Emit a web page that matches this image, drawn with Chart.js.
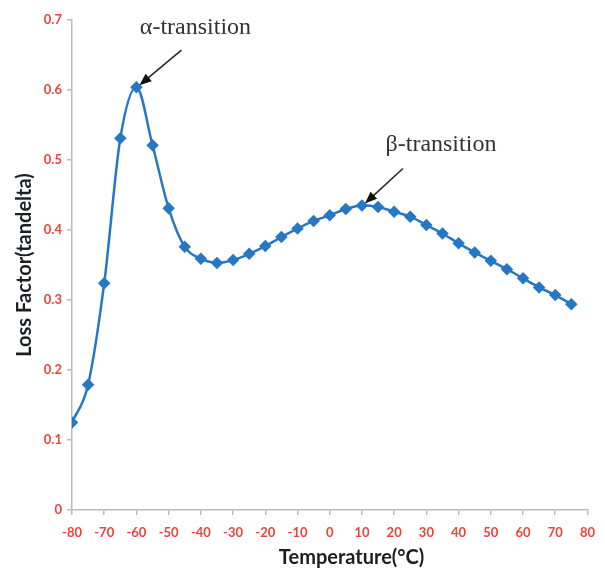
<!DOCTYPE html>
<html>
<head>
<meta charset="utf-8">
<script src="https://cdn.jsdelivr.net/npm/chart.js@4"></script>
<style>
  html, body { margin: 0; padding: 0; background: #fff; }
  #lossChart { display: block; }
</style>
</head>
<body>
<canvas id="lossChart" width="605" height="568"></canvas>
<script>
// temperature (°C) and loss factor
const temps = [-80, -75, -70, -65, -60, -55, -50, -45, -40, -35, -30, -25, -20, -15, -10, -5,
  0, 5, 10, 15, 20, 25, 30, 35, 40, 45, 50, 55, 60, 65, 70, 75];
const lossFactor = [0.125, 0.179, 0.324, 0.531, 0.604, 0.521, 0.431, 0.376, 0.359, 0.353, 0.357, 0.366,
  0.377, 0.390, 0.402, 0.413, 0.421, 0.430, 0.435, 0.433, 0.426, 0.419, 0.407, 0.395, 0.381,
  0.368, 0.356, 0.344, 0.331, 0.318, 0.307, 0.294];

// labels + which point the arrow points at
const noteTexts = ['α-transition', 'β-transition'];
const noteAt = [-60, 10];
// where label / arrow tail sit, relative to the point (pixels)
const noteOffsets = [
  { tx: 59, ty: -59, ax: 45, ay: -37 },
  { tx: 79, ty: -61, ax: 41, ay: -37 }
];

const red = '#f0413b';
const axisGrey = '#b4bcc4';

// arrows and labels, anchored on the data point
const notePlugin = {
  id: 'notes',
  afterDatasetsDraw(chart) {
    const c = chart.ctx;
    const xs = chart.scales.x, ys = chart.scales.y;
    noteTexts.forEach((txt, k) => {
      const i = temps.indexOf(noteAt[k]);
      const o = noteOffsets[k];
      const px = xs.getPixelForValue(noteAt[k]);
      const py = ys.getPixelForValue(lossFactor[i]);
      const sx = px + o.ax, sy = py + o.ay;
      const ex = px + 3, ey = py - 2;
      const ang = Math.atan2(ey - sy, ex - sx);
      c.save();
      c.strokeStyle = '#2a2a2a';
      c.fillStyle = '#111';
      c.lineWidth = 1.6;
      c.beginPath();
      c.moveTo(sx, sy);
      c.lineTo(ex - 9 * Math.cos(ang), ey - 9 * Math.sin(ang));
      c.stroke();
      // arrow head
      c.beginPath();
      c.moveTo(ex, ey);
      c.lineTo(ex - 13 * Math.cos(ang - 0.38), ey - 13 * Math.sin(ang - 0.38));
      c.lineTo(ex - 13 * Math.cos(ang + 0.38), ey - 13 * Math.sin(ang + 0.38));
      c.closePath();
      c.fill();
      c.font = '24px "Liberation Serif", serif';
      c.fillStyle = '#333';
      c.textAlign = 'center';
      c.textBaseline = 'middle';
      c.fillText(txt, px + o.tx, py + o.ty);
      c.restore();
    });
  }
};

const ctx = document.getElementById('lossChart');

const lossChart = new Chart(ctx, {
  type: 'line',
  data: {
    datasets: [{
      label: 'Loss Factor',
      data: temps.map((t, i) => ({ x: t, y: lossFactor[i] })),
      borderColor: '#2777c4',
      backgroundColor: '#2777c4',
      borderWidth: 2.5,
      pointStyle: 'rectRot',
      pointRadius: 4.5,
      pointHoverRadius: 4.5,
      cubicInterpolationMode: 'monotone'
    }]
  },
  options: {
    responsive: false,
    animation: false,
    layout: { padding: { top: 20, right: 9, left: 0, bottom: 0 } },
    plugins: {
      legend: { display: false },
      tooltip: { enabled: false }
    },
    scales: {
      x: {
        type: 'linear',
        min: -80,
        max: 80,
        afterFit(scale) { scale.height = 58; },
        ticks: {
          stepSize: 10,
          color: red,
          padding: 10,
          font: { family: 'Lato', size: 13, weight: 'bold' }
        },
        grid: {
          drawOnChartArea: false,
          drawTicks: true,
          tickLength: 5,
          color: axisGrey,
          lineWidth: 1.5
        },
        border: { color: axisGrey, width: 1.5 },
        title: {
          display: true,
          text: '         Temperature(°C)',
          color: '#1a1f24',
          padding: { top: 0, bottom: 0 },
          font: { family: 'Lato', size: 20, weight: 'bold', lineHeight: 1 }
        }
      },
      y: {
        min: 0,
        max: 0.7,
        afterFit(scale) { scale.width = 72; },
        ticks: {
          stepSize: 0.1,
          color: red,
          padding: 5,
          font: { family: 'Lato', size: 13, weight: 'bold' },
          callback: v => Math.round(v * 10) / 10
        },
        grid: {
          drawOnChartArea: false,
          drawTicks: true,
          tickLength: 5,
          color: axisGrey,
          lineWidth: 1.5
        },
        border: { color: axisGrey, width: 1.5 },
        title: {
          display: true,
          text: 'Loss Factor(tandelta)',
          color: '#1a1f24',
          padding: { top: 13, bottom: 0 },
          font: { family: 'Lato', size: 20, weight: 'bold' }
        }
      }
    }
  },
  plugins: [notePlugin]
});
</script>
</body>
</html>
